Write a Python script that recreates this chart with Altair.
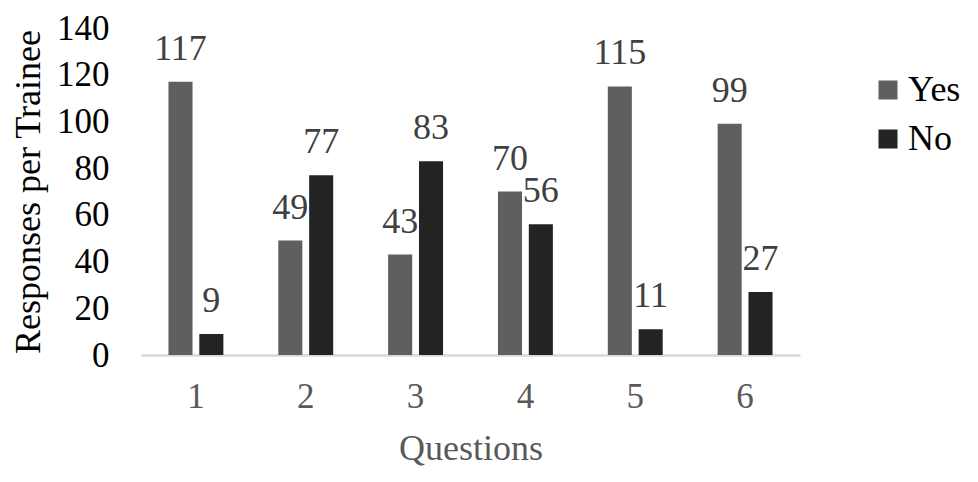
import altair as alt
import pandas as pd

questions = ["1", "2", "3", "4", "5", "6"]
yes_values = [117, 49, 43, 70, 115, 99]
no_values = [9, 77, 83, 56, 11, 27]
series = ["Yes", "No"]
colors = ["#5f5f5f", "#232323"]

rows = []
for q, y, n in zip(questions, yes_values, no_values):
    rows.append({"Question": q, "Answer": "Yes", "Value": y})
    rows.append({"Question": q, "Answer": "No", "Value": n})
df = pd.DataFrame(rows)

FONT = "Liberation Serif"

x = alt.X("Question:N", sort=questions, title="Questions",
          scale=alt.Scale(paddingInner=0.5, paddingOuter=0.25),
          axis=alt.Axis(labelAngle=0, labelFontSize=35, labelColor="#595959",
                        labelFont=FONT, labelPadding=24, ticks=False,
                        domainColor="#d9d9d9", domainWidth=2.5,
                        titleFontSize=36, titleFont=FONT, titleColor="#595959",
                        titleFontWeight="normal", titlePadding=17))
xo = alt.XOffset("Answer:N", sort=series, scale=alt.Scale(paddingInner=0.22))
y = alt.Y("Value:Q", title="Responses per Trainee",
          scale=alt.Scale(domain=[0, 140], nice=False),
          axis=alt.Axis(values=list(range(0, 141, 20)), grid=False, domain=False,
                        ticks=False, labelFontSize=35, labelColor="#000000",
                        labelFont=FONT, labelPadding=32,
                        titleFontSize=36, titleFont=FONT, titleColor="#000000",
                        titleFontWeight="normal", titlePadding=9))

bars = alt.Chart(df).mark_bar().encode(
    x=x, xOffset=xo, y=y,
    color=alt.Color("Answer:N", sort=series,
                    scale=alt.Scale(domain=series, range=colors),
                    legend=alt.Legend(title=None, orient="none", legendX=729, legendY=44,
                                      symbolType="square", symbolSize=361,
                                      symbolStrokeWidth=0, labelFont=FONT,
                                      labelFontSize=36, labelColor="#000000",
                                      labelOffset=2, rowPadding=13)),
)

labels = alt.Chart(df).mark_text(font=FONT, fontSize=36, color="#404040",
                                 baseline="alphabetic", dy=-22).encode(
    x=x, xOffset=xo, y=y, text="Value:Q")

chart = alt.layer(bars, labels).properties(
    width=659, height=327,
    autosize=alt.AutoSizeParams(type="none"),
    padding={"left": 133, "top": 20, "right": 170, "bottom": 118},
).configure_view(stroke=None)

chart.save("out.html", embed_options={"renderer": "svg", "actions": False})
